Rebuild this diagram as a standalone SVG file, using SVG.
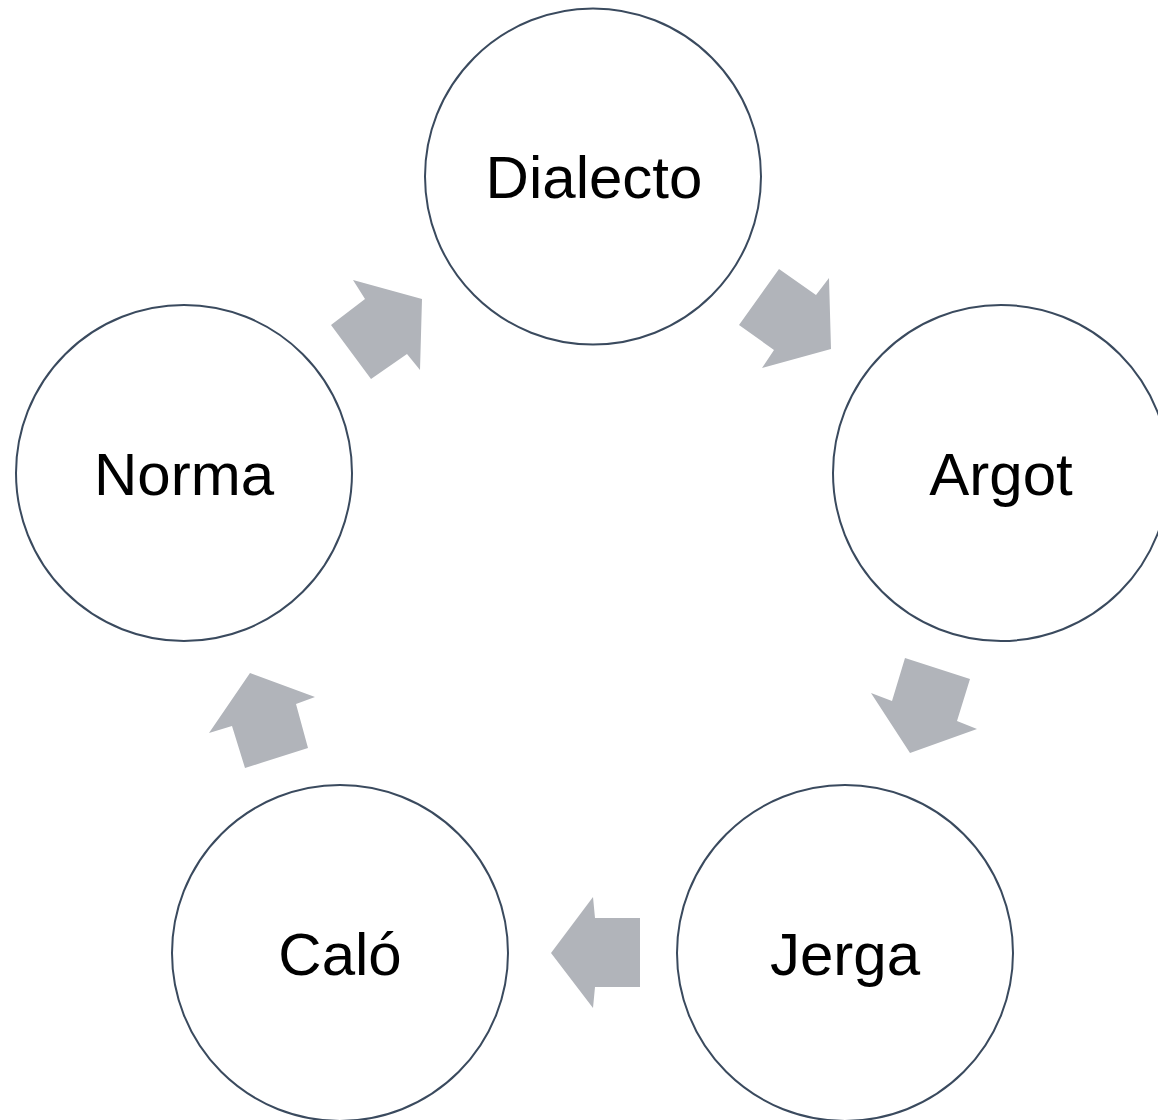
<svg xmlns="http://www.w3.org/2000/svg" width="1158" height="1120" viewBox="0 0 1158 1120">
<style>
.node circle{fill:#FFFFFF;stroke:#3A4A5E;stroke-width:2}
.node text{font-family:"Liberation Sans",Arial,sans-serif;font-size:60px;fill:#000000;text-anchor:middle}
.arrow{fill:#B1B4BA}
</style>
<rect width="1158" height="1120" fill="#FFFFFF"/>
<g id="connectors">
<polygon class="arrow" points="422,299 420,370 407,354 371,379 331,325 365,299 353,280"/>
<polygon class="arrow" points="831,349 762,368 774,350 739,325 779,269 816,295 829,278"/>
<polygon class="arrow" points="910,753 871,693 892,701 905,658 970,679 957,721 977,729"/>
<polygon class="arrow" points="551,953 593,897 595,918 640,918 640,987 595,987 593,1008"/>
<polygon class="arrow" points="250,673 315,697 296,704 308,748 245,768 232,726 209,733"/>
</g>
<g id="node-dialecto" class="node"><circle cx="593" cy="176.5" r="168"/><text x="594" y="198">Dialecto</text></g>
<g id="node-argot" class="node"><circle cx="1001" cy="473" r="168"/><text x="1001" y="494.5">Argot</text></g>
<g id="node-jerga" class="node"><circle cx="845" cy="953" r="168"/><text x="845" y="974.5">Jerga</text></g>
<g id="node-calo" class="node"><circle cx="340" cy="953" r="168"/><text x="340" y="974.5">Caló</text></g>
<g id="node-norma" class="node"><circle cx="184" cy="473" r="168"/><text x="184" y="494.5">Norma</text></g>
</svg>
